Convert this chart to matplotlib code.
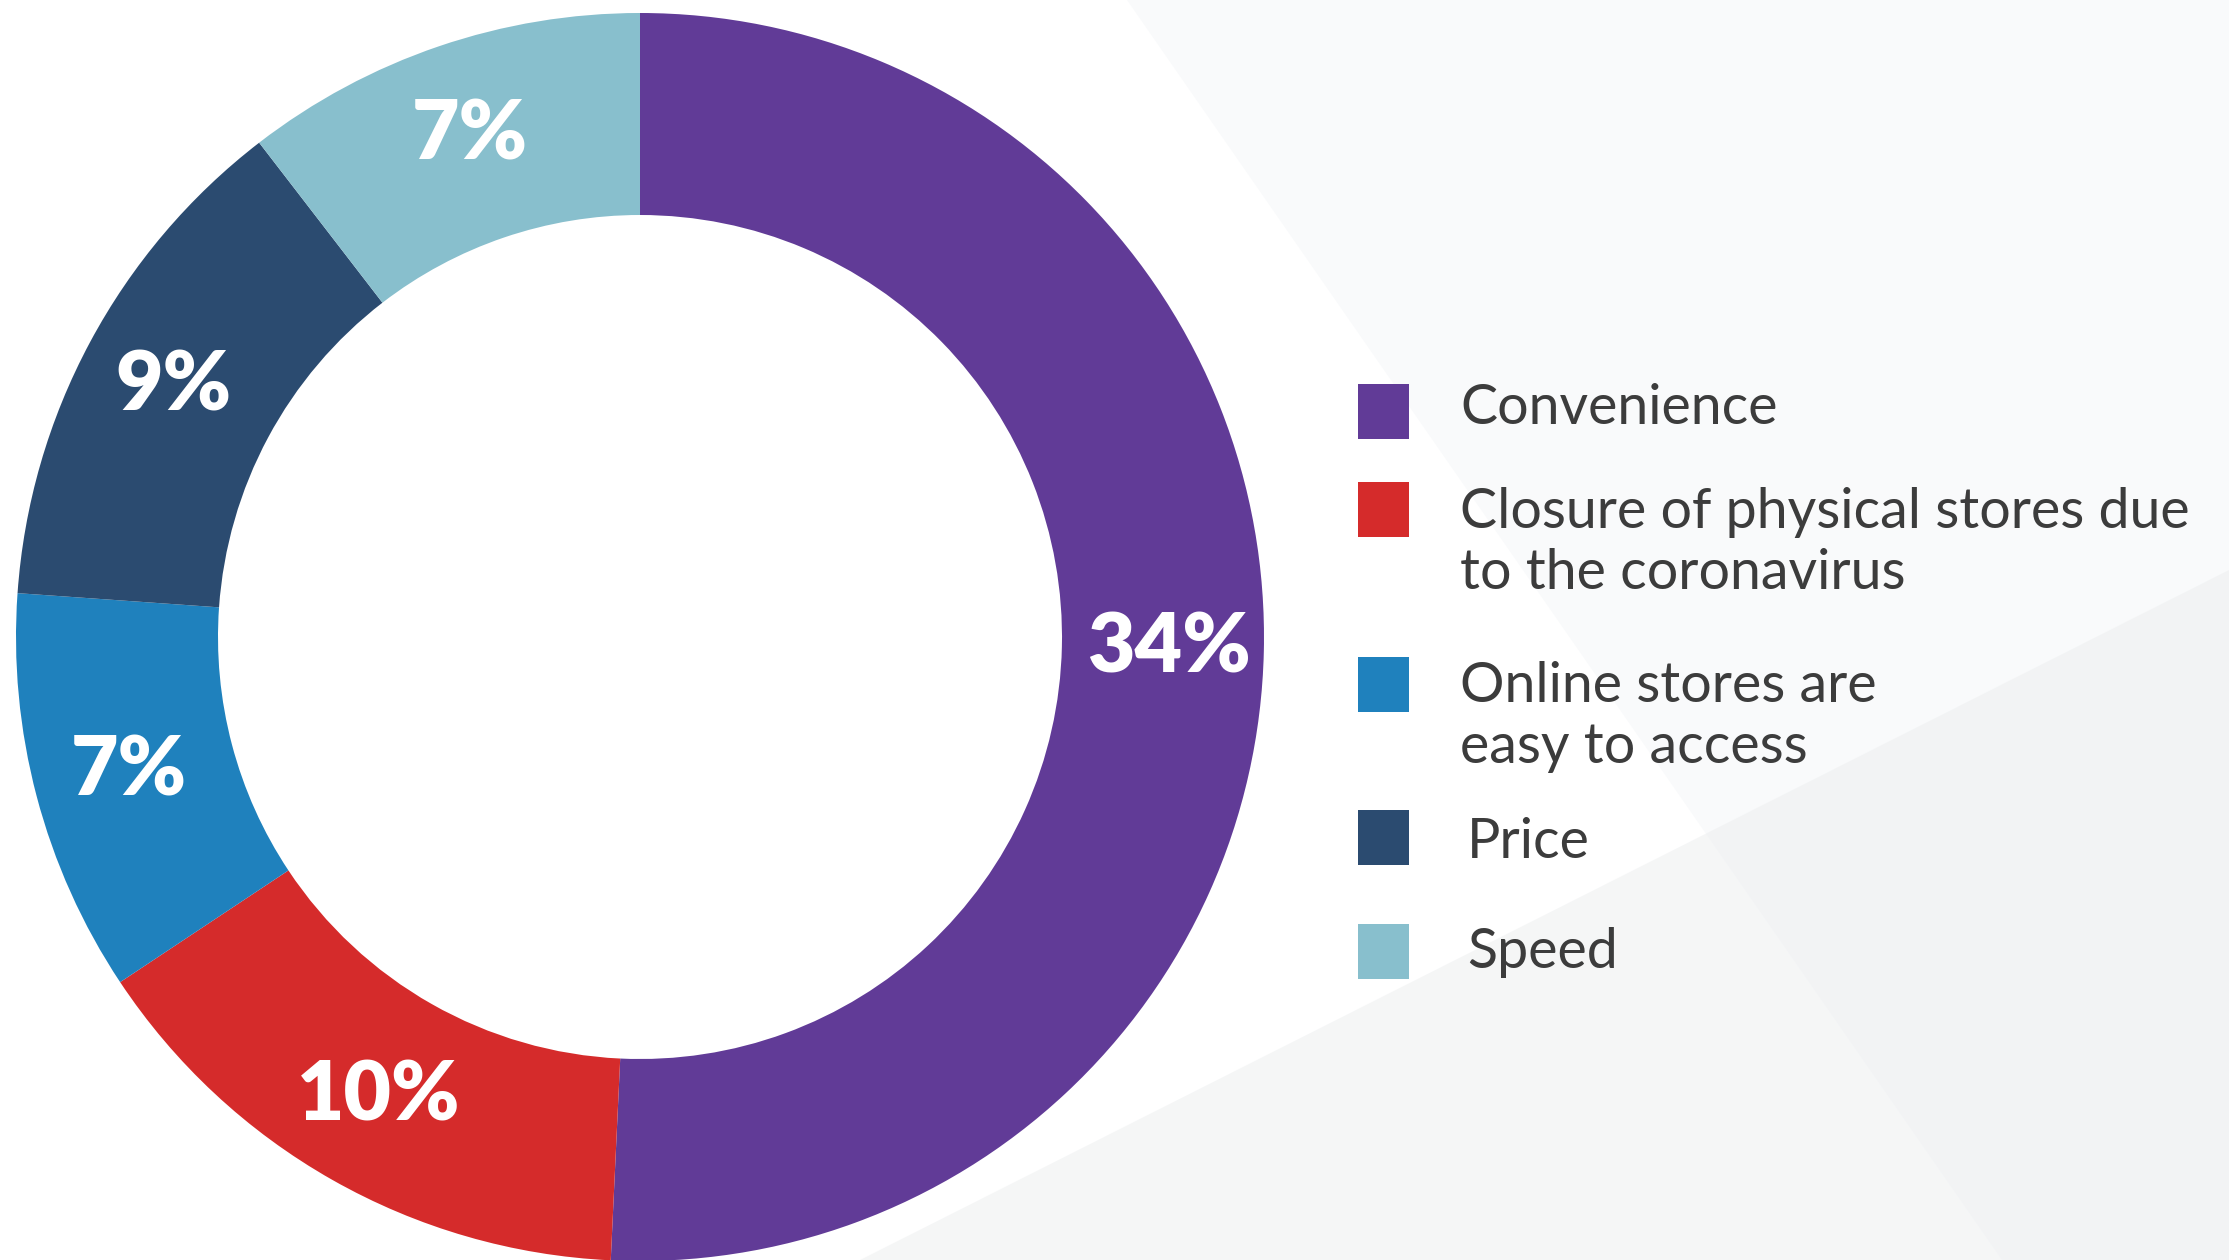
import matplotlib
matplotlib.use("Agg")
import matplotlib.pyplot as plt
from matplotlib.patches import Polygon, Rectangle
import numpy as np

# Reasons for shopping online (share of respondents, %)
categories = [
    "Convenience",
    "Closure of physical stores due\nto the coronavirus",
    "Online stores are\neasy to access",
    "Price",
    "Speed",
]
values = [34, 10, 7, 9, 7]
colors = ["#613b97", "#d52b2b", "#1f81bd", "#2b4b70", "#88bfcd"]

W, H = 2229, 1260

fig = plt.figure(figsize=(W / 100, H / 100), dpi=100)
ax = fig.add_axes([0, 0, 1, 1])

# soft grey backdrop panels
ax.add_patch(Polygon([(1127, 1260), (2229, 1260), (2229, 0), (2002, 0)],
                     closed=True, facecolor="#eef1f5", alpha=0.35,
                     edgecolor="none", zorder=0))
ax.add_patch(Polygon([(860, 0), (2229, 690), (2229, 0)],
                     closed=True, facecolor="#eceeef", alpha=0.5,
                     edgecolor="none", zorder=0))

# donut
cx, cy, r = 640, 623, 624
ring = 202
wedges, _ = ax.pie(values, colors=colors, startangle=90, counterclock=False,
                   center=(cx, cy), radius=r,
                   wedgeprops=dict(width=ring, edgecolor="none", zorder=2))

label_r = r - ring / 2 + 6
for w, v in zip(wedges, values):
    ang = np.deg2rad((w.theta1 + w.theta2) / 2)
    ax.text(cx + label_r * np.cos(ang), cy + label_r * np.sin(ang), f"{v}%",
            ha="center", va="center", color="white", fontsize=59,
            fontfamily="Lato", fontweight="heavy", zorder=3)

# legend
box_x, box_w = 1358, 51
box_tops = [384, 482, 657, 810, 924]
text_x = [1460, 1460, 1460, 1467, 1467]
text_y = [408, 543, 717, 843, 952]
for cat, col, top, tx, ty in zip(categories, colors, box_tops, text_x, text_y):
    ax.add_patch(Rectangle((box_x, H - top - box_w - 4), box_w, box_w + 4,
                           facecolor=col, edgecolor="none", zorder=3))
    ax.text(tx, H - ty, cat, ha="left", va="center", fontsize=40,
            fontfamily="Lato", fontweight="normal", color="#3c3c3c",
            linespacing=1.25, zorder=3)

ax.set_xlim(0, W)
ax.set_ylim(0, H)
ax.set_aspect("auto")
ax.axis("off")

fig.savefig("out.png", dpi=100, facecolor="white")
